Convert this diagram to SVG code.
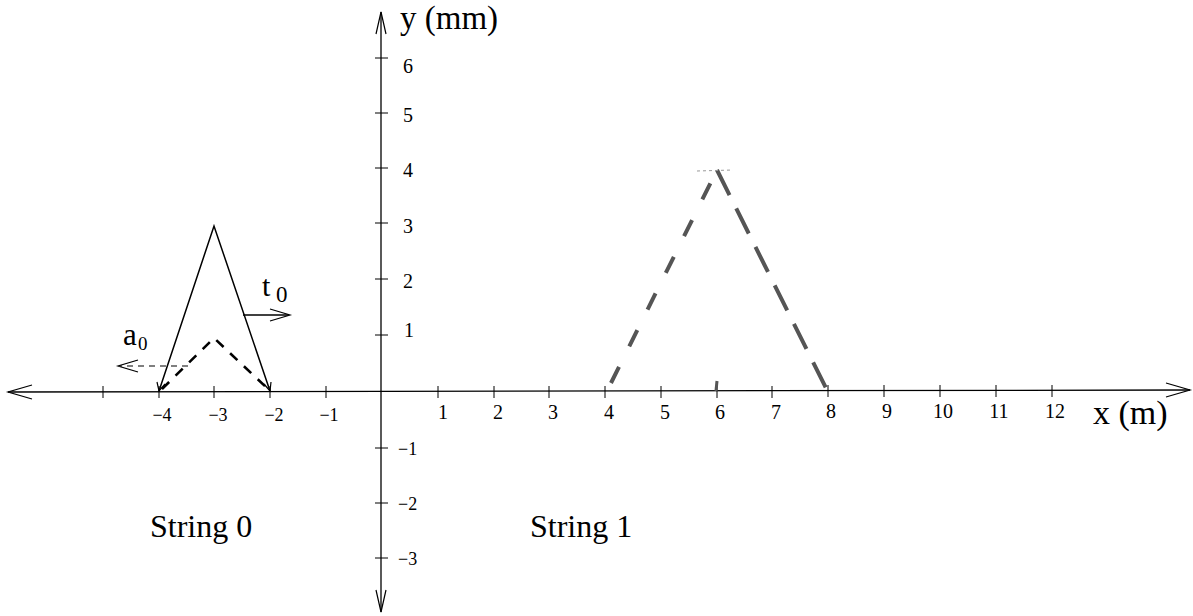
<svg xmlns="http://www.w3.org/2000/svg" width="1193" height="616" viewBox="0 0 1193 616">
<style>
.ax{stroke:#000;stroke-width:1.3;fill:none}
.tk{stroke:#000;stroke-width:1}
.lbl{font-family:"Liberation Serif",serif;font-size:20px;fill:#000}
.neg{font-family:"Liberation Serif",serif;font-size:18px;fill:#000}
.big{font-family:"Liberation Serif",serif;fill:#000}
.solid{stroke:#000;stroke-width:1.5;fill:none}
.dash{stroke:#000;stroke-width:2.6;fill:none;stroke-dasharray:10 9}
.head{stroke:#000;stroke-width:1.2;fill:none}
</style>
<rect width="1193" height="616" fill="#fff"/>
<g id="axes">
<line class="ax" x1="8" y1="392" x2="1190" y2="390"/>
<line class="ax" x1="381" y1="12" x2="381" y2="612"/>
<polyline class="head" points="32,385 8,392 32,399"/>
<polyline class="head" points="1166,383 1190,390 1166,397"/>
<polyline class="head" points="376,34 381,12 386,34"/>
<polyline class="head" points="376,590 381,612 386,590"/>
<g class="tk">
<line x1="103" y1="386" x2="103" y2="398"/>
<line x1="159" y1="386" x2="159" y2="398"/>
<line x1="214" y1="386" x2="214" y2="398"/>
<line x1="270" y1="386" x2="270" y2="398"/>
<line x1="326" y1="386" x2="326" y2="398"/>
<line x1="438" y1="386" x2="438" y2="398"/>
<line x1="494" y1="386" x2="494" y2="398"/>
<line x1="549" y1="386" x2="549" y2="398"/>
<line x1="605" y1="386" x2="605" y2="398"/>
<line x1="661" y1="386" x2="661" y2="398"/>
<line x1="717" y1="386" x2="717" y2="398"/>
<line x1="772" y1="386" x2="772" y2="398"/>
<line x1="828" y1="385" x2="828" y2="397"/>
<line x1="884" y1="385" x2="884" y2="397"/>
<line x1="940" y1="385" x2="940" y2="397"/>
<line x1="996" y1="385" x2="996" y2="397"/>
<line x1="1052" y1="385" x2="1052" y2="397"/>
<line x1="375" y1="58" x2="388" y2="58"/>
<line x1="375" y1="113" x2="388" y2="113"/>
<line x1="375" y1="168" x2="388" y2="168"/>
<line x1="375" y1="223" x2="388" y2="223"/>
<line x1="375" y1="279" x2="388" y2="279"/>
<line x1="375" y1="335" x2="388" y2="335"/>
<line x1="375" y1="448" x2="388" y2="448"/>
<line x1="375" y1="503" x2="388" y2="503"/>
<line x1="375" y1="558" x2="388" y2="558"/>
</g>
<g class="neg" text-anchor="middle">
<text x="162" y="421">−4</text>
<text x="218" y="421">−3</text>
<text x="274" y="421">−2</text>
<text x="329" y="421">−1</text>
</g>
<g class="lbl" text-anchor="middle">
<text x="443" y="419">1</text>
<text x="498" y="419">2</text>
<text x="553" y="419">3</text>
<text x="609" y="419">4</text>
<text x="665" y="419">5</text>
<text x="720" y="419">6</text>
<text x="776" y="419">7</text>
<text x="831" y="418">8</text>
<text x="887" y="418">9</text>
<text x="943" y="418">10</text>
<text x="999" y="418">11</text>
<text x="1055" y="418">12</text>
</g>
<g class="lbl">
<text x="403" y="73">6</text>
<text x="403" y="122">5</text>
<text x="403" y="177">4</text>
<text x="403" y="233">3</text>
<text x="403" y="288">2</text>
<text x="404" y="337">1</text>
</g>
<g class="neg">
<text x="398" y="455">−1</text>
<text x="398" y="510">−2</text>
<text x="398" y="565">−3</text>
</g>
<text class="big" x="1093" y="424" style="font-size:34px">x (m)</text>
<text class="big" x="400" y="29" style="font-size:33px">y (mm)</text>
</g>
<g id="string0">
<polyline class="solid" points="159,391 214,226 270,391"/>
<polyline class="head" points="157,382 159,391 165,384"/>
<polyline class="head" points="271,382 270,391 264,384"/>
<polyline class="dash" points="162,389 214,338 268,389"/>
<text class="big" x="150" y="537" style="font-size:32px">String 0</text>
</g>
<g id="t0">
<line class="solid" x1="243" y1="315" x2="289" y2="315"/>
<polyline class="head" points="270,309 290,315 270,321"/>
<text class="big" x="262" y="296" style="font-size:30px">t</text>
<text class="big" x="276" y="302" style="font-size:23px">0</text>
</g>
<g id="a0">
<line x1="188" y1="366" x2="120" y2="366" stroke="#000" stroke-width="1.2" stroke-dasharray="6 5"/>
<polyline class="head" points="138,360 118,366 138,372"/>
<text class="big" x="123" y="345" style="font-size:31px">a</text>
<text class="big" x="138" y="350" style="font-size:19px">0</text>
</g>
<g id="string1">
<polyline points="611,383 717,170" stroke="#555" stroke-width="4" fill="none" stroke-dasharray="18 23"/>
<polyline points="717,170 827,390" stroke="#555" stroke-width="4" fill="none" stroke-dasharray="28 15"/>
<line x1="697" y1="171" x2="733" y2="170" stroke="#999" stroke-width="1" stroke-dasharray="3 3"/>
<line x1="717" y1="381" x2="716" y2="391" stroke="#555" stroke-width="3"/>
<text class="big" x="530" y="537" style="font-size:32px">String 1</text>
</g>
</svg>
